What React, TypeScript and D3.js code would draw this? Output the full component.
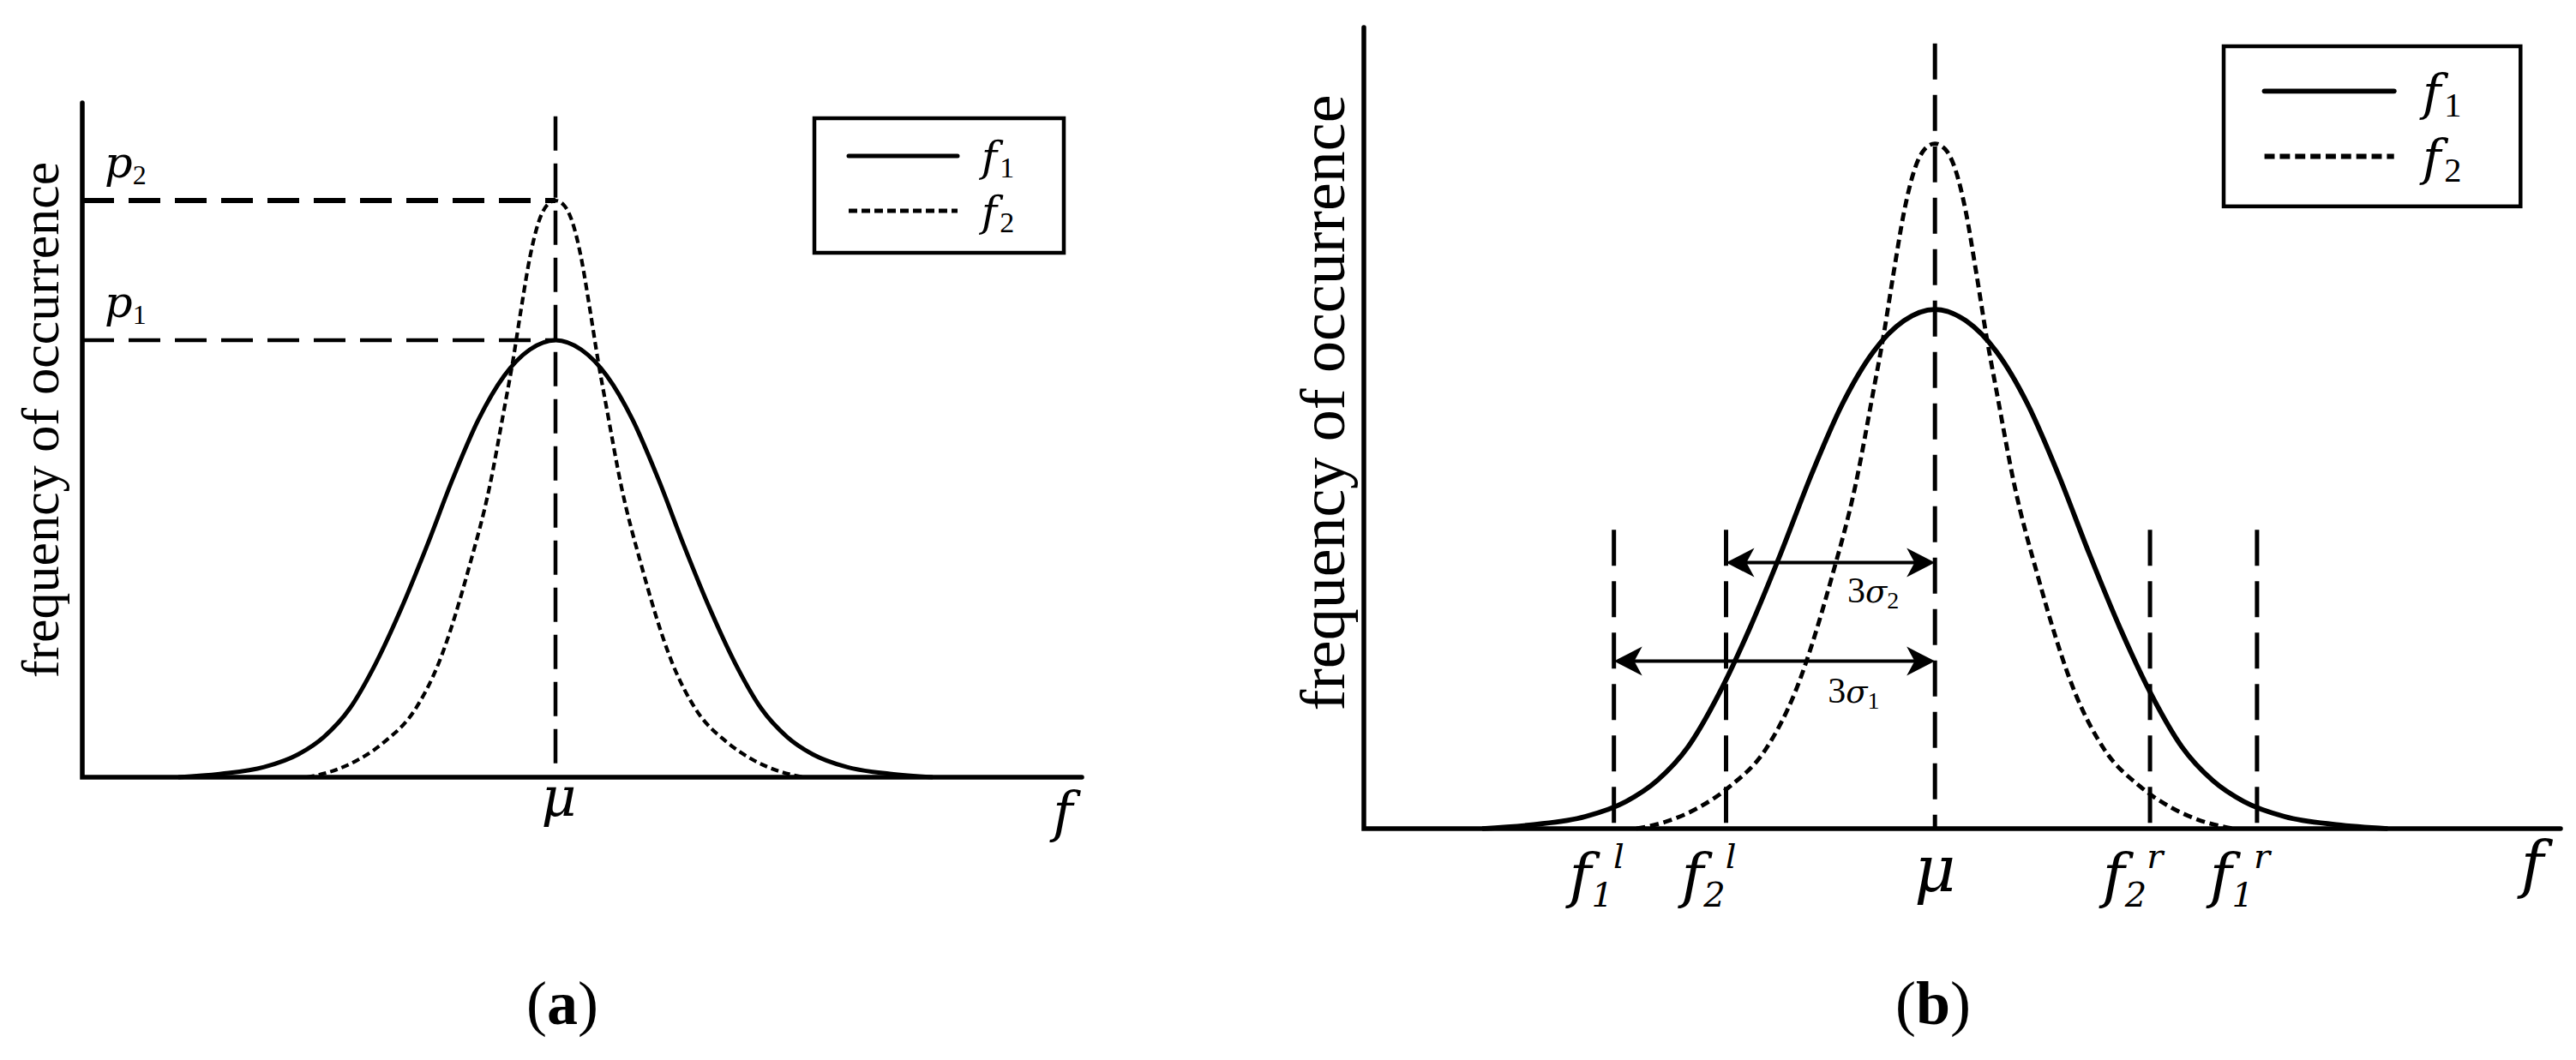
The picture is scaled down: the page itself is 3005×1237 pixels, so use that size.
import React from 'react';
import * as d3 from 'd3';

// ---------- data (x: offset from the mean μ, y: relative frequency) ----------
const f1Curve: [number, number][] = [
  [-4.4, 0], [-3.9, 0.005], [-3.4, 0.015], [-3.0, 0.034], [-2.7, 0.06], [-2.4, 0.102],
  [-2.1, 0.168], [-1.8, 0.25], [-1.5, 0.343], [-1.2, 0.442], [-0.9, 0.53], [-0.6, 0.595],
  [-0.3, 0.634], [0, 0.648], [0.3, 0.634], [0.6, 0.595], [0.9, 0.53], [1.2, 0.442],
  [1.5, 0.343], [1.8, 0.25], [2.1, 0.168], [2.4, 0.102], [2.7, 0.06], [3.0, 0.034],
  [3.4, 0.015], [3.9, 0.005], [4.4, 0],
];
const f2Curve: [number, number][] = [
  [-2.9, 0], [-2.63, 0.008], [-2.3, 0.026], [-2.0, 0.052], [-1.64, 0.1], [-1.36, 0.17],
  [-1.0, 0.315], [-0.77, 0.43], [-0.6, 0.545], [-0.5, 0.615], [-0.4, 0.695], [-0.3, 0.77],
  [-0.2, 0.822], [-0.1, 0.848], [0, 0.855], [0.1, 0.848], [0.2, 0.822], [0.3, 0.77],
  [0.4, 0.695], [0.5, 0.615], [0.6, 0.545], [0.77, 0.43], [1.0, 0.315], [1.36, 0.17],
  [1.64, 0.1], [2.0, 0.052], [2.3, 0.026], [2.63, 0.008], [2.9, 0],
];
const MU = 0;
const MU_LINE_TOP = 0.98;
const peakLevels = [0.855, 0.648]; // p2, p1
const peakNames = ['2', '1'];
const legendSubs = ['1', '2'];

const boundValues = [-3.12, -2.03, 2.09, 3.13];
const boundSubs = ['1', '2', '2', '1'];
const boundSups = ['l', 'l', 'r', 'r'];
const BOUND_TOP = 0.373;

const arrowFrom = [-2.03, -3.12];
const arrowLevels = [0.332, 0.209];
const arrowSubs = ['2', '1'];
const arrowLabelX = [-0.6, -0.79];
const arrowLabelY = [0.282, 0.157];

const yLabel = 'frequency of occurrence';

const ROMAN = '"Liberation Serif", "Times New Roman", serif';
const ITAL = '"DejaVu Serif", serif';

type Cfg = {
  xr: [number, number];
  yr: [number, number];
  xd: [number, number];
};

const cfgA: Cfg = { xr: [96, 1262], yr: [907, 120], xd: [-5.52, 6.14] };
const cfgB: Cfg = { xr: [1591, 2987], yr: [967, 32], xd: [-5.55, 6.08] };

function Curves({ x, y, k }: { x: any; y: any; k: number }) {
  const line = d3
    .line<[number, number]>()
    .x((d) => x(d[0]))
    .y((d) => y(d[1]))
    .curve(d3.curveMonotoneX);
  return (
    <g fill="none" stroke="#000">
      <path d={line(f1Curve) || ''} strokeWidth={5 * k} />
      <path d={line(f2Curve) || ''} strokeWidth={4.2 * k} strokeDasharray={`${9 * k} ${5 * k}`} />
    </g>
  );
}

function Axes({ cfg }: { cfg: Cfg }) {
  const [x0, x1] = cfg.xr;
  const [y0, yTop] = cfg.yr;
  return (
    <path
      d={`M${x0},${yTop} L${x0},${y0} L${x1},${y0}`}
      fill="none"
      stroke="#000"
      strokeWidth={5.5}
      strokeLinecap="round"
      strokeLinejoin="miter"
    />
  );
}

function Legend({ bx, by, k }: { bx: number; by: number; k: number }) {
  const w = 291 * k;
  const h = 157 * k;
  return (
    <g>
      <rect x={bx} y={by} width={w} height={h} fill="#fff" stroke="#000" strokeWidth={4.5} />
      {legendSubs.map((s, i) => {
        const ly = by + (44 + i * 64) * k;
        return (
          <g key={s}>
            <line
              x1={bx + 40 * k}
              x2={bx + 167 * k}
              y1={ly}
              y2={ly}
              stroke="#000"
              strokeWidth={5 * k}
              strokeLinecap={i === 0 ? 'round' : 'butt'}
              strokeDasharray={i === 0 ? undefined : `${10 * k} ${5 * k}`}
            />
            <text x={bx + 195 * k} y={ly + 18 * k} fontFamily={ITAL} fontStyle="italic" fontSize={49 * k}>
              f
              <tspan fontFamily={ROMAN} fontStyle="normal" fontSize={34 * k} dx={3 * k} dy={7 * k}>
                {s}
              </tspan>
            </text>
          </g>
        );
      })}
    </g>
  );
}

function Arrow({ xa, xb, yy }: { xa: number; xb: number; yy: number }) {
  const L = 33;
  const hh = 17;
  const head = (tx: number, dir: number) =>
    `M${tx},${yy} L${tx - dir * L},${yy - hh} L${tx - dir * L * 0.72},${yy} L${tx - dir * L},${yy + hh} Z`;
  return (
    <g>
      <line x1={xa + 10} x2={xb - 10} y1={yy} y2={yy} stroke="#000" strokeWidth={4} />
      <path d={head(xa, -1)} fill="#000" />
      <path d={head(xb, 1)} fill="#000" />
    </g>
  );
}

export default function App() {
  const xa = d3.scaleLinear().domain(cfgA.xd).range(cfgA.xr);
  const ya = d3.scaleLinear().domain([0, 1]).range(cfgA.yr);
  const xb = d3.scaleLinear().domain(cfgB.xd).range(cfgB.xr);
  const yb = d3.scaleLinear().domain([0, 1]).range(cfgB.yr);

  return (
    <svg
      width={3005}
      height={1237}
      viewBox="0 0 3005 1237"
      style={{ position: 'absolute', left: 0, top: 0, display: 'block', background: '#fff' }}
    >
      <rect x={0} y={0} width={3005} height={1237} fill="#fff" />

      {/* ================= Panel (a) ================= */}
      <g>
        {peakLevels.map((p, i) => (
          <line
            key={'p' + i}
            x1={xa(cfgA.xd[0])}
            x2={xa(MU)}
            y1={ya(p)}
            y2={ya(p)}
            stroke="#000"
            strokeWidth={i === 0 ? 6 : 4.5}
            strokeDasharray="37 17"
          />
        ))}
        <line
          x1={xa(MU)}
          x2={xa(MU)}
          y1={ya(MU_LINE_TOP)}
          y2={ya(0)}
          stroke="#000"
          strokeWidth={4.5}
          strokeDasharray="40 15"
        />
        <Curves x={xa} y={ya} k={1} />
        <Axes cfg={cfgA} />
        {peakLevels.map((p, i) => (
          <text key={'pl' + i} x={122} y={ya(p) - 27} fontFamily={ITAL} fontStyle="italic" fontSize={51}>
            p
            <tspan fontFamily={ROMAN} fontStyle="normal" fontSize={32} dy={8}>
              {peakNames[i]}
            </tspan>
          </text>
        ))}
        <text transform="translate(68, 490) rotate(-90)" textAnchor="middle" fontFamily={ROMAN} fontSize={62}>
          {yLabel}
        </text>
        <text x={xa(MU) + 4} y={952} textAnchor="middle" fontFamily={ITAL} fontStyle="italic" fontSize={63}>
          μ
        </text>
        <text x={1240} y={970} textAnchor="middle" fontFamily={ITAL} fontStyle="italic" fontSize={63}>
          f
        </text>
        <Legend bx={950} by={138} k={1} />
        <text x={656} y={1195} textAnchor="middle" fontFamily={ROMAN} fontSize={72}>
          (<tspan fontWeight="bold">a</tspan>)
        </text>
      </g>

      {/* ================= Panel (b) ================= */}
      <g>
        <line
          x1={xb(MU)}
          x2={xb(MU)}
          y1={yb(MU_LINE_TOP)}
          y2={yb(0)}
          stroke="#000"
          strokeWidth={5}
          strokeDasharray="42 18"
        />
        {boundValues.map((v, i) => (
          <line
            key={'bd' + i}
            x1={xb(v)}
            x2={xb(v)}
            y1={yb(BOUND_TOP)}
            y2={yb(0)}
            stroke="#000"
            strokeWidth={5}
            strokeDasharray="42 18"
          />
        ))}
        <Curves x={xb} y={yb} k={1.15} />
        <Axes cfg={cfgB} />
        {arrowFrom.map((v, i) => (
          <g key={'ar' + i}>
            <Arrow xa={xb(v)} xb={xb(MU)} yy={yb(arrowLevels[i])} />
            <text x={xb(arrowLabelX[i])} y={yb(arrowLabelY[i])} textAnchor="middle" fontFamily={ROMAN} fontSize={42}>
              3
              <tspan fontFamily={ITAL} fontStyle="italic" fontSize={37}>
                σ
              </tspan>
              <tspan fontSize={28} dy={7}>
                {arrowSubs[i]}
              </tspan>
            </text>
          </g>
        ))}
        <text transform="translate(1568, 470) rotate(-90)" textAnchor="middle" fontFamily={ROMAN} fontSize={74}>
          {yLabel}
        </text>
        {boundValues.map((v, i) => (
          <text
            key={'bl' + i}
            x={xb(v) - 20}
            y={1046}
            textAnchor="middle"
            fontFamily={ITAL}
            fontStyle="italic"
            fontSize={70}
          >
            f
            <tspan fontSize={40} dy={12}>
              {boundSubs[i]}
            </tspan>
            <tspan fontSize={40} dy={-45}>
              {boundSups[i]}
            </tspan>
          </text>
        ))}
        <text x={xb(MU)} y={1040} textAnchor="middle" fontFamily={ITAL} fontStyle="italic" fontSize={74}>
          μ
        </text>
        <text x={2954} y={1034} textAnchor="middle" fontFamily={ITAL} fontStyle="italic" fontSize={72}>
          f
        </text>
        <Legend bx={2594} by={54} k={1.19} />
        <text x={2255} y={1195} textAnchor="middle" fontFamily={ROMAN} fontSize={72}>
          (<tspan fontWeight="bold">b</tspan>)
        </text>
      </g>
    </svg>
  );
}
